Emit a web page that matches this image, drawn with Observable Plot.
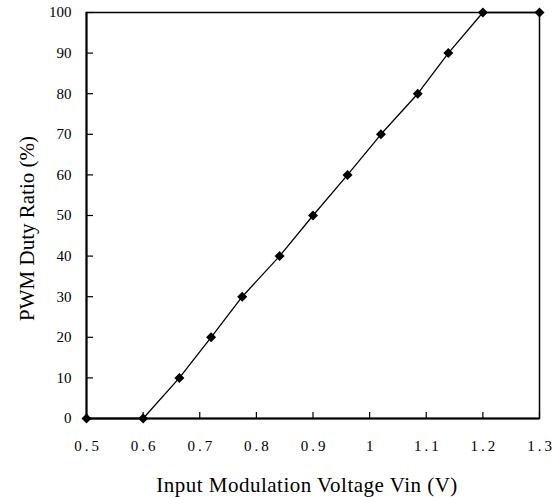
<!DOCTYPE html>
<html><head><meta charset="utf-8">
<script src="https://cdn.jsdelivr.net/npm/d3@7"></script>
<script src="https://cdn.jsdelivr.net/npm/@observablehq/plot@0.6"></script>
<style>
body{margin:0;background:#fff}
</style>
</head><body><div id="chart"></div>
<script>
const vin = [0.5, 0.6, 0.664, 0.72, 0.775, 0.841, 0.9, 0.961, 1.02, 1.085, 1.139, 1.2, 1.3];
const duty = [0, 0, 10, 20, 30, 40, 50, 60, 70, 80, 90, 100, 100];
const xTicks = [0.5, 0.6, 0.7, 0.8, 0.9, 1.0, 1.1, 1.2, 1.3];
const yTicks = [0, 10, 20, 30, 40, 50, 60, 70, 80, 90, 100];
const xTitle = "Input Modulation Voltage Vin (V)";
const yTitle = "PWM Duty Ratio (%)";

const data = vin.map((v, i) => ({vin: v, duty: duty[i]}));

const chart = Plot.plot({
  width: 552,
  height: 497,
  marginLeft: 86,
  marginTop: 12,
  marginRight: 13,
  marginBottom: 79,
  style: {fontFamily: "'Liberation Serif', 'Times New Roman', serif", fontSize: "15px", color: "#000", background: "#fff"},
  x: {domain: [0.5, 1.3]},
  y: {domain: [0, 100]},
  marks: [
    Plot.frame({stroke: "black", strokeWidth: 1.5}),
    Plot.ruleX([0.5], {stroke: "black", strokeWidth: 2}),
    Plot.ruleY([0], {stroke: "black", strokeWidth: 2}),
    // inward tick marks
    Plot.axisX({ticks: xTicks, tickSize: 6, dy: -6, tickFormat: () => "", label: null, strokeWidth: 1.2}),
    Plot.axisY({ticks: yTicks, tickSize: 7, dx: 7, tickFormat: () => "", label: null, strokeWidth: 1.2}),
    // tick labels
    Plot.axisX({ticks: xTicks, tickSize: 0, tickPadding: 22, tickFormat: d => String(+d.toFixed(1)), label: null, fontSize: 15}),
    Plot.axisY({ticks: yTicks, tickSize: 0, tickPadding: 15, tickFormat: d => String(d), label: null, fontSize: 15}),
    Plot.line(data, {x: "vin", y: "duty", stroke: "black", strokeWidth: 1.3}),
    Plot.dot(data, {x: "vin", y: "duty", symbol: "square", r: 4, rotate: 45, fill: "black", stroke: "none"}),
    Plot.text([xTitle], {frameAnchor: "bottom", dy: 67, dx: -6, fontSize: 21, textAnchor: "middle", lineAnchor: "middle", fill: "black"}),
    Plot.text([yTitle], {frameAnchor: "left", dx: -59, dy: 13, rotate: -90, fontSize: 21, textAnchor: "middle", lineAnchor: "middle", fill: "black"})
  ]
});
d3.select(chart).selectAll("text").filter(function() { return this.textContent === xTitle; })
  .attr("letter-spacing", "0.5px");
// widen decimal tick labels like the original (spacing between characters, none trailing)
d3.select(chart).selectAll('g[aria-label="x-axis tick label"] text').each(function() {
  const s = this.textContent;
  if (s.length > 1) {
    const el = d3.select(this);
    el.text(null);
    el.append("tspan").attr("letter-spacing", "3px").text(s.slice(0, -1));
    el.append("tspan").text(s.slice(-1));
  }
});
document.getElementById("chart").appendChild(chart);
</script>
</body></html>
